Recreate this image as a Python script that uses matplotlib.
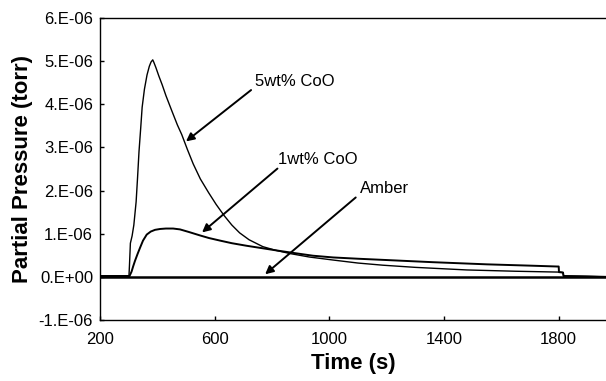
import matplotlib
matplotlib.use("Agg")
import matplotlib.pyplot as plt
from matplotlib.ticker import FixedLocator, FixedFormatter

# ---- data, pressures in 1e-6 torr ----
t5 = [200, 290, 301, 303, 306, 312, 318, 326, 331, 336, 342, 347, 355, 364, 372, 378,
      384, 388, 395, 405, 417, 430, 451, 470, 485, 505, 525, 550, 579, 605, 633, 660,
      687, 720, 768, 810, 863, 930, 1013, 1100, 1187, 1300, 1480, 1650, 1804, 1815,
      1817, 1900, 1965]
p5 = [0.02, 0.02, 0.02, 0.30, 0.78, 0.95, 1.20, 1.74, 2.30, 2.90, 3.45, 3.93, 4.35,
      4.68, 4.88, 4.98, 5.03, 4.97, 4.85, 4.66, 4.45, 4.20, 3.84, 3.52, 3.30, 2.95,
      2.62, 2.27, 1.95, 1.68, 1.42, 1.20, 1.02, 0.86, 0.70, 0.62, 0.54, 0.46, 0.39,
      0.32, 0.27, 0.22, 0.16, 0.13, 0.11, 0.10, 0.02, 0.01, 0.00]

t1 = [200, 290, 303, 310, 316, 322, 331, 340, 350, 363, 377, 392, 410, 430, 455, 479,
      510, 549, 580, 619, 660, 712, 770, 828, 890, 943, 1013, 1100, 1199, 1361, 1550,
      1700, 1794, 1800, 1801, 1815, 1817, 1900, 1965]
p1 = [0.02, 0.02, 0.02, 0.12, 0.25, 0.37, 0.53, 0.68, 0.84, 0.98, 1.05, 1.09, 1.11,
      1.12, 1.12, 1.10, 1.04, 0.96, 0.90, 0.84, 0.78, 0.72, 0.66, 0.60, 0.54, 0.49,
      0.45, 0.42, 0.39, 0.34, 0.29, 0.26, 0.24, 0.24, 0.11, 0.10, 0.02, 0.01, 0.00]

t_amber = [200, 1965]
p_amber = [0.0, 0.0]

yticks = [-1e-6, 0, 1e-6, 2e-6, 3e-6, 4e-6, 5e-6, 6e-6]
ytick_labels = ["-1.E-06", "0.E+00", "1.E-06", "2.E-06", "3.E-06", "4.E-06", "5.E-06", "6.E-06"]
xticks = [200, 600, 1000, 1400, 1800]
xtick_labels = ["200", "600", "1000", "1400", "1800"]

# annotations: (label, text xy, arrow start, arrow tip)
annotations = [
    ("5wt% CoO", (740, 4.52e-6), (727, 4.33e-6), (500, 3.14e-6)),
    ("1wt% CoO", (821, 2.72e-6), (819, 2.51e-6), (556, 1.03e-6)),
    ("Amber", (1107, 2.05e-6), (1092, 1.84e-6), (776, 0.06e-6)),
]

plt.rcParams['font.family'] = ['Liberation Sans', 'DejaVu Sans']

fig = plt.figure(figsize=(6.06, 3.81), dpi=100)
ax = fig.add_axes([100/606, (381-320)/381, (606-100)/606, (320-18)/381])

scale = 1e-6
ax.plot(t5, [v*scale for v in p5], color='black', lw=1.0)
ax.plot(t1, [v*scale for v in p1], color='black', lw=1.4)
ax.plot(t_amber, p_amber, color='black', lw=1.8)

ax.set_xlim(200, 1965)
ax.set_ylim(-1e-6, 6e-6)
ax.yaxis.set_major_locator(FixedLocator(yticks))
ax.yaxis.set_major_formatter(FixedFormatter(ytick_labels))
ax.xaxis.set_major_locator(FixedLocator(xticks))
ax.xaxis.set_major_formatter(FixedFormatter(xtick_labels))
ax.tick_params(direction='in', length=3, width=1, labelsize=12, colors='black')
ax.tick_params(axis='y', pad=5)
ax.tick_params(axis='x', pad=9)

for s in ['left', 'bottom', 'top']:
    ax.spines[s].set_linewidth(1.0)
ax.spines['right'].set_visible(False)

ax.set_xlabel("Time (s)", fontsize=16, fontweight='bold', labelpad=4)
ax.set_ylabel("Partial Pressure (torr)", fontsize=16, fontweight='bold', labelpad=4)

for label, txy, start, tip in annotations:
    ax.text(txy[0], txy[1], label, fontsize=12, ha='left', va='center')
    ax.annotate("", xy=tip, xytext=start,
                arrowprops=dict(arrowstyle='-|>', color='black', lw=1.4,
                                mutation_scale=12, shrinkA=0, shrinkB=0))

fig.savefig("out.png", dpi=100)
